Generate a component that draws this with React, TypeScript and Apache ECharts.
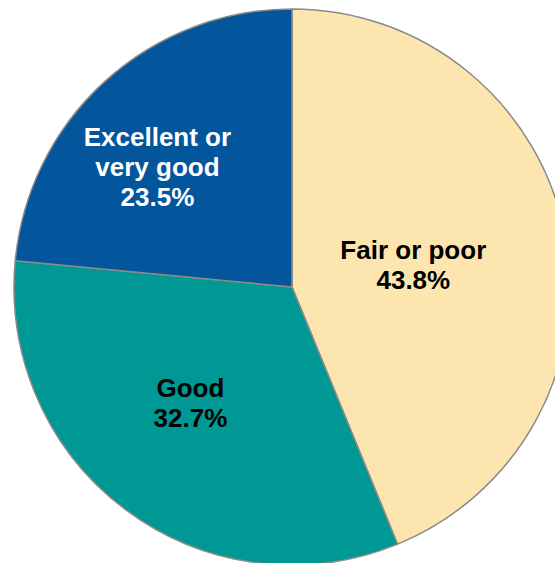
import React, { useEffect, useRef } from "react";
import * as echarts from "echarts";

const categories = ["Fair or poor", "Good", "Excellent or\nvery good"];
const values = [43.8, 32.7, 23.5];
const colors = ["#FDE5B0", "#009894", "#03559C"];
const labelColors = ["#000000", "#000000", "#FFFFFF"];
const labelShift = [[-18, 5], [-17, 2], [-39, -15]];

export default function App() {
  const ref = useRef<HTMLDivElement>(null);
  useEffect(() => {
    document.body.style.margin = "0";
    const chart = echarts.init(ref.current!, null, { renderer: "svg" });
    chart.setOption({
      animation: false,
      series: [
        {
          type: "pie",
          center: [292, 287],
          radius: 278,
          startAngle: 90,
          clockwise: true,
          data: categories.map((name, i) => ({
            name,
            value: values[i],
            itemStyle: { color: colors[i] },
            label: { color: labelColors[i] },
          })),
          itemStyle: { borderColor: "#8A8A8A", borderWidth: 1.5 },
          label: {
            show: true,
            position: "inside",
            formatter: (p: any) => `${p.name}\n${p.value.toFixed(1)}%`,
            fontFamily: "Liberation Sans, Arial, sans-serif",
            fontWeight: "bold",
            fontSize: 26,
            lineHeight: 30,
            align: "center",
          },
          labelLine: { show: false },
          emphasis: { disabled: true },
          labelLayout: (p: any) => ({ dx: labelShift[p.dataIndex][0], dy: labelShift[p.dataIndex][1] }),
        },
      ],
    });
    return () => chart.dispose();
  }, []);
  return <div ref={ref} style={{ width: 555, height: 563 }} />;
}
